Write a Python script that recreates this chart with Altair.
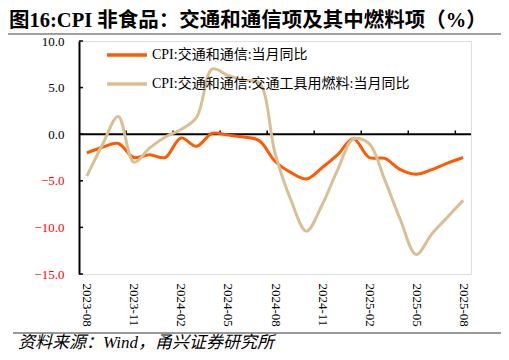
import altair as alt
import pandas as pd

months = ["2023-08", "2023-09", "2023-10", "2023-11", "2023-12",
          "2024-01", "2024-02", "2024-03", "2024-04", "2024-05", "2024-06", "2024-07",
          "2024-08", "2024-09", "2024-10", "2024-11", "2024-12",
          "2025-01", "2025-02", "2025-03", "2025-04", "2025-05", "2025-06", "2025-07", "2025-08"]
transport_comm = [-2.0, -1.4, -1.0, -2.5, -2.2, -2.5, -0.4, -1.3, 0.1, -0.1, -0.3, -0.7,
                  -2.9, -4.1, -4.8, -3.6, -2.2, -0.5, -2.5, -2.6, -3.8, -4.3, -3.8, -3.1, -2.5]
fuel = [-4.5, -1.1, 1.9, -3.0, -1.5, -0.3, 0.5, 1.8, 7.0, 6.3, 5.8, 5.5,
        -2.0, -7.0, -10.4, -7.6, -3.8, -0.5, -1.0, -4.9, -9.2, -12.9, -10.7, -8.9, -7.1]
series_names = ["CPI:交通和通信:当月同比", "CPI:交通和通信:交通工具用燃料:当月同比"]
series_colors = ["#FF5A00", "#D9BF93"]
tick_months = ["2023-08", "2023-11", "2024-02", "2024-05", "2024-08",
               "2024-11", "2025-02", "2025-05", "2025-08"]
y_ticks = [-15, -10, -5, 0, 5, 10]
title_text = "图16:CPI 非食品：交通和通信项及其中燃料项（%）"
source_text = "资料来源：Wind，甬兴证券研究所"

W, H = 392, 233
SERIF = "Liberation Serif, Noto Sans CJK SC"

df = pd.DataFrame({
    "month": months * 2,
    "value": transport_comm + fuel,
    "series": [series_names[0]] * len(months) + [series_names[1]] * len(months),
})

x_enc = alt.X("month:O", sort=months,
              scale=alt.Scale(type="point", padding=0.5),
              axis=alt.Axis(values=tick_months, labelAngle=90, labelAlign="left",
                            labelBaseline="middle", labelPadding=9, domain=False,
                            ticks=False, labelFont=SERIF, labelFontSize=13,
                            labelColor="#000000", title=None, grid=False))
y_scale = alt.Scale(domain=[-15, 10], nice=False, zero=False)

lines = alt.Chart(df).mark_line(interpolate="catmull-rom", strokeWidth=3).encode(
    x=x_enc,
    y=alt.Y("value:Q", scale=y_scale,
            axis=alt.Axis(values=y_ticks, format=".1f", grid=False, ticks=False,
                          domainColor="#000000", domainWidth=2, labelPadding=15,
                          labelFont=SERIF, labelFontSize=13,
                          labelColor=alt.condition("datum.value < 0", alt.value("#FF0000"), alt.value("#000000")),
                          title=None)),
    color=alt.Color("series:N", sort=series_names,
                    scale=alt.Scale(domain=series_names, range=series_colors),
                    legend=alt.Legend(title=None, orient="none", legendX=26, legendY=-8,
                                      symbolType="stroke", symbolSize=1600, symbolStrokeWidth=3.5,
                                      labelFont=SERIF, labelFontSize=14, labelColor="#000000",
                                      labelLimit=400,
                                      labelOffset=3, rowPadding=-15, padding=0)),
)

zero_line = alt.Chart(pd.DataFrame({"z": [0]})).mark_rule(color="#000000", strokeWidth=2).encode(
    y=alt.Y("z:Q", scale=y_scale))

xt = pd.DataFrame({"month": tick_months[1:], "y0": [0] * 8, "y1": [0.4] * 8})
x_ticks = alt.Chart(xt).mark_rule(color="#000000", strokeWidth=1.5, xOffset=-7.84).encode(
    x=alt.X("month:O", sort=months), y=alt.Y("y0:Q", scale=y_scale), y2="y1:Q")

yt = pd.DataFrame({"v": y_ticks})
y_tick_marks = alt.Chart(yt).mark_rule(color="#000000", strokeWidth=1.5).encode(
    y=alt.Y("v:Q", scale=y_scale), x=alt.value(0), x2=alt.value(4))

title = alt.Chart(pd.DataFrame({"t": [title_text]})).mark_text(
    align="left", baseline="middle", font=SERIF, fontSize=20.5, fontWeight="bold", color="#000000"
).encode(text="t:N", x=alt.value(-70), y=alt.value(-20))

title_rule = alt.Chart(pd.DataFrame({"a": [0]})).mark_rule(color="#808080", strokeWidth=1.5).encode(
    x=alt.value(-71), x2=alt.value(422), y=alt.value(-7))

source_rule = alt.Chart(pd.DataFrame({"a": [0]})).mark_rule(color="#333333", strokeWidth=1).encode(
    x=alt.value(-66), x2=alt.value(422), y=alt.value(292))

source = alt.Chart(pd.DataFrame({"t": [source_text]})).mark_text(
    align="left", baseline="middle", font="Liberation Serif, Noto Sans CJK SC", fontSize=17,
    fontStyle="italic", color="#000000"
).encode(text="t:N", x=alt.value(-61), y=alt.value(302))

chart = alt.layer(zero_line, x_ticks, y_tick_marks, lines, title, title_rule, source_rule, source).properties(
    width=W, height=H,
    autosize=alt.AutoSizeParams(type="none"),
    padding={"left": 71, "top": 33, "right": 30, "bottom": 78},
).configure_view(stroke=None).configure(background="#ffffff")

chart.save("out.html", embed_options={"renderer": "svg", "actions": False})
